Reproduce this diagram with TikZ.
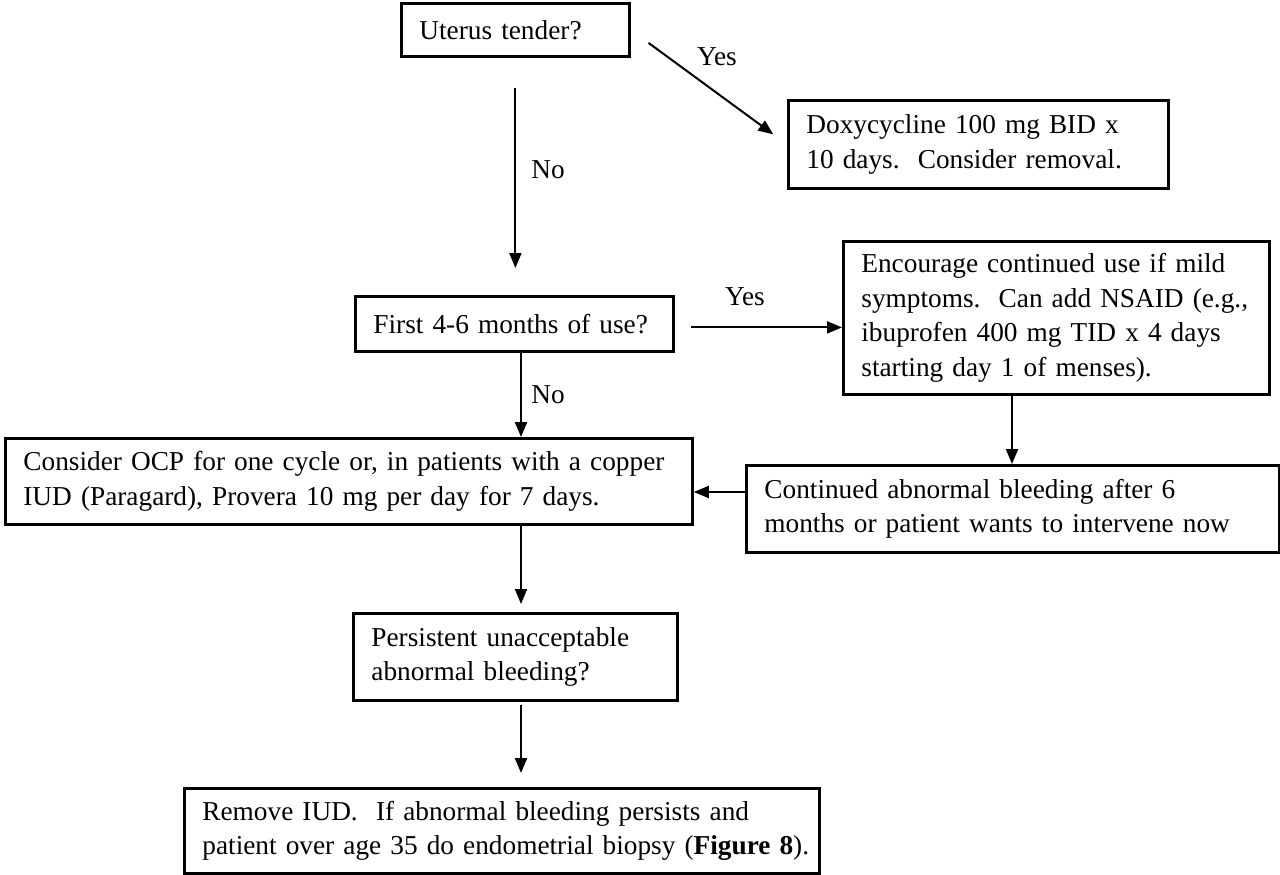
\documentclass[tikz,border=0pt]{standalone}
\usepackage{fontspec}
\setmainfont{Liberation Serif}
\usetikzlibrary{arrows.meta,calc}
\frenchspacing
\begin{document}
\begin{tikzpicture}[x=1pt,y=-1pt,
  box/.style={draw, line width=2.8pt, inner xsep=18pt, inner ysep=0pt, align=left,
    font=\fontsize{27.3}{34.5}\selectfont, anchor=north west},
  lbl/.style={font=\fontsize{27.3}{34.5}\selectfont, inner sep=0pt},
  arr/.style={line width=2pt, -{Triangle[length=15pt,width=12pt]}},
]
\useasboundingbox (0,0) rectangle (1280,875);
\fill[white] (0,0) rectangle (1280,875);

\node[box, text width=192pt, minimum height=53pt] (u) at (400,2) {\mbox{Uterus tender?}};
\node[box, text width=344pt, minimum height=88pt] (d) at (787,99)
  {\mbox{Doxycycline 100 mg BID x}\\\mbox{10 days.\ \ Consider removal.}};
\node[box, text width=282pt, minimum height=55pt] (f) at (354,295) {\mbox{First 4-6 months of use?}};
\node[box, text width=390pt, minimum height=153pt] (e) at (842,240)
  {\mbox{Encourage continued use if mild}\\\mbox{symptoms.\ \ Can add NSAID (e.g.,}\\\mbox{ibuprofen 400 mg TID x 4 days}\\\mbox{starting day 1 of menses).}};
\node[box, text width=651pt, minimum height=86pt] (o) at (4,437)
  {\mbox{Consider OCP for one cycle or, in patients with a copper}\\\mbox{IUD (Paragard), Provera 10 mg per day for 7 days.}};
\node[box, text width=497pt, minimum height=87pt] (c) at (745,464)
  {\mbox{Continued abnormal bleeding after 6}\\\mbox{months or patient wants to intervene now}};
\node[box, text width=288pt, minimum height=87pt] (p) at (352,612)
  {\mbox{Persistent unacceptable}\\\mbox{abnormal bleeding?}};
\node[box, text width=599pt, minimum height=85pt] (r) at (183,787)
  {\mbox{Remove IUD.\ \ If abnormal bleeding persists and}\\\mbox{patient over age 35 do endometrial biopsy (\textbf{Figure 8}).}};

\node[lbl] (yes1) at (717,57) {Yes};
\node[lbl] (no1) at (548,170) {No};
\node[lbl] (yes2) at (745,297) {Yes};
\node[lbl] (no2) at (548,395) {No};

\coordinate (sp) at (521,0);
\coordinate (c2) at (1012,0);
\coordinate (rw) at (0,492);

\draw[arr, shorten <=30pt, shorten >=27pt] (u.south) -- (u.south |- f.north);
\draw[arr, shorten <=22pt, shorten >=17pt] (u.east) -- (d.west);
\draw[arr] ([xshift=16pt,yshift=-3.5pt]f.east) -- ([yshift=-3.5pt]f.east -| e.west);
\draw[arr] (sp |- f.south) -- (sp |- o.north);
\draw[arr] (sp |- o.south) -- ([yshift=8pt]sp |- p.north);
\draw[arr] ([yshift=-3pt]sp |- p.south) -- ([yshift=14pt]sp |- r.north);
\draw[arr] (c2 |- e.south) -- (c2 |- c.north);
\draw[arr] (rw -| c.west) -- (rw -| o.east);
\end{tikzpicture}
\end{document}
